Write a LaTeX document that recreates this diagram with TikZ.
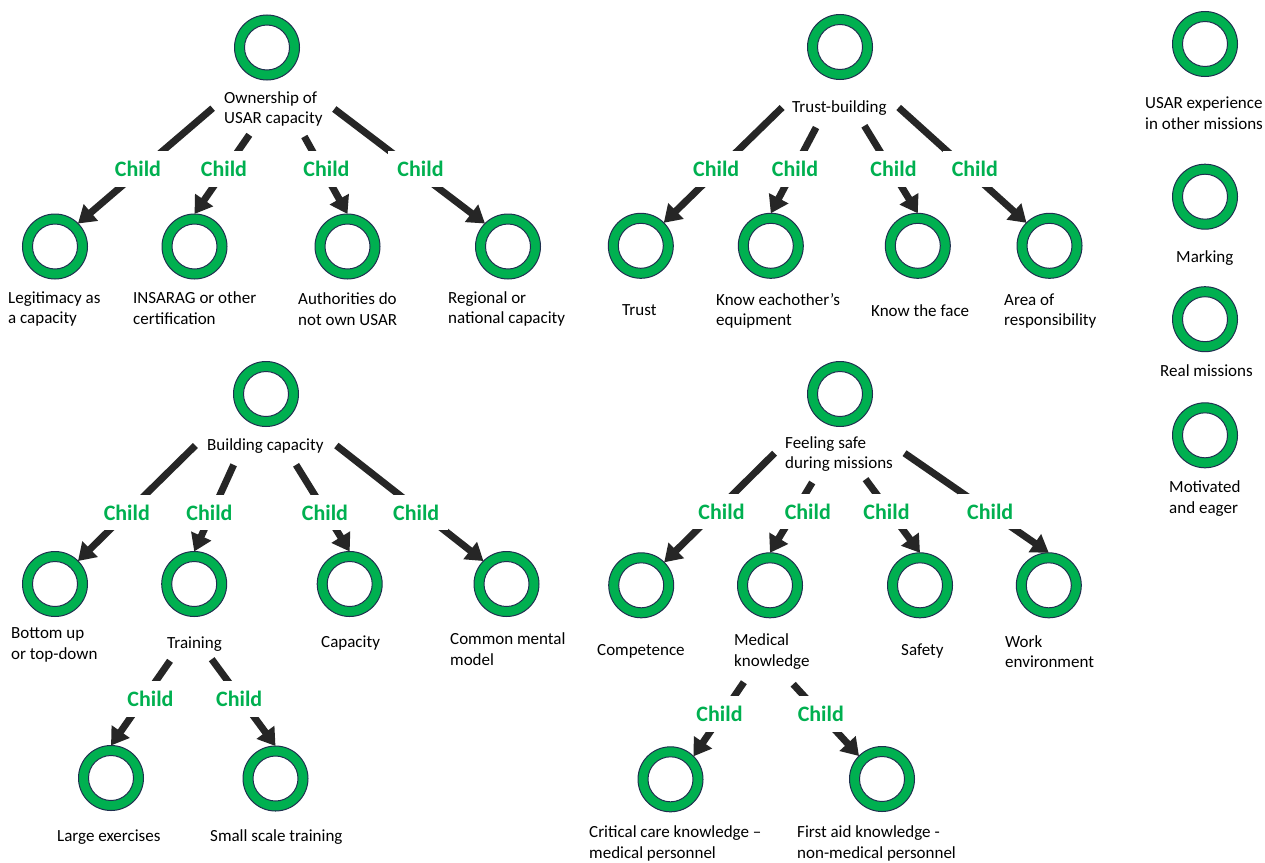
\documentclass[tikz,border=0pt]{standalone}
\usepackage{fontspec}
\setmainfont{Carlito}
\usetikzlibrary{arrows.meta,calc}
\definecolor{ringgreen}{HTML}{00B050}
\definecolor{ringnavy}{HTML}{1F2F4F}
\definecolor{edgegray}{HTML}{262626}
\definecolor{childgreen}{HTML}{00B050}
\begin{document}
\begin{tikzpicture}[x=1pt,y=-1pt,
  ring/.style={circle, minimum size=65pt, inner sep=0pt, outer sep=0pt, fill=ringgreen, draw=ringnavy, line width=1pt,
    path picture={\draw[ringnavy, line width=1pt, fill=white] (path picture bounding box.center) circle[radius=22.5pt];}},
  lbl/.style={font=\fontsize{17}{20.7}\selectfont, align=left, inner sep=0pt, anchor=west, text=black, yshift=-1.5pt},
  rel/.style={draw=edgegray, line width=7pt, -{Triangle[length=17pt,width=21pt]}},
  childlbl/.style={font=\fontsize{22}{26}\selectfont\bfseries, text=childgreen, fill=white, inner xsep=9pt, inner ysep=10pt, yshift=-0.8pt}
]
\useasboundingbox[fill=white] (0,0) rectangle (1265,862);

% ---------- Tree 1: Ownership ----------
\node[ring] (own) at (267,47.5) {};
\node[lbl] (ownL) at (224,107.5) {Ownership of\\USAR capacity};
\node[ring] (leg) at (55,246.5) {};
\node[lbl] (legL) at (8,307.5) {Legitimacy as\\a capacity};
\node[ring] (ins) at (194.5,246.5) {};
\node[lbl] (insL) at (133,307) {INSARAG or other\\certification};
\node[ring] (auth) at (347.5,246.5) {};
\node[lbl] (authL) at (298,307.5) {Authorities do\\not own USAR};
\node[ring] (reg) at (508,246.5) {};
\node[lbl] (regL) at (448,307.5) {Regional or\\national capacity};

\draw[rel] ($(ownL.center)+(-60.7,-0.8)$) -- (leg.45);
\draw[rel] ($(ownL.center)+(-24,25.8)$) -- (ins.north);
\draw[rel] ($(ownL.center)+(31,27.5)$) -- (auth.north);
\draw[rel] ($(ownL.center)+(61,0)$) -- (reg.135);
\node[childlbl] (ownC1) at (138,168.3) {Child};
\node[childlbl] (ownC2) at (224,168.3) {Child};
\node[childlbl] (ownC3) at (326.5,168.3) {Child};
\node[childlbl] (ownC4) at (420.5,168.3) {Child};

% ---------- Tree 2: Trust-building ----------
\node[ring] (tb) at (840,47) {};
\node[lbl] (tbL) at (792,106.5) {Trust-building};
\node[ring] (trust) at (640.8,245.8) {};
\node[lbl] (trustL) at (622,309) {Trust};
\node[ring] (know) at (770.8,245.8) {};
\node[lbl] (knowL) at (716,309.5) {Know eachother’s\\equipment};
\node[ring] (face) at (917.8,245.8) {};
\node[lbl] (faceL) at (871,309) {Know the face};
\node[ring] (area) at (1049.5,245.8) {};
\node[lbl] (areaL) at (1004,309.5) {Area of\\responsibility};

\draw[rel] ($(tbL.center)+(-57.3,-0.5)$) -- (trust.45);
\draw[rel] ($(tbL.center)+(-23.3,19.5)$) -- (know.north);
\draw[rel] ($(tbL.center)+(25,17.8)$) -- (face.north);
\draw[rel] ($(tbL.center)+(59.3,-0.5)$) -- (area.135);
\node[childlbl] (tbC1) at (716.2,168.3) {Child};
\node[childlbl] (tbC2) at (795,168.3) {Child};
\node[childlbl] (tbC3) at (893.5,168.3) {Child};
\node[childlbl] (tbC4) at (974.8,168.3) {Child};

% ---------- Tree 3: Building capacity ----------
\node[ring] (bc) at (266,394) {};
\node[lbl] (bcL) at (207,445) {Building capacity};
\node[ring] (bot) at (55,584) {};
\node[lbl] (botL) at (11,643.5) {Bottom up\\or top-down};
\node[ring] (tr) at (194.2,584) {};
\node[lbl] (trL) at (167,642.7) {Training};
\node[ring] (cap) at (349.7,584) {};
\node[lbl] (capL) at (321,642) {Capacity};
\node[ring] (cmm) at (506.5,584) {};
\node[lbl] (cmmL) at (450,647.5) {Common mental\\model};

\draw[rel] ($(bcL.center)+(-70,-1)$) -- (bot.45);
\draw[rel] ($(bcL.center)+(-31.7,18.3)$) -- (tr.north);
\draw[rel] ($(bcL.center)+(30.7,18.3)$) -- (cap.north);
\draw[rel] ($(bcL.center)+(71,-1)$) -- (cmm.135);
\node[childlbl] (bcC1) at (126.8,511.7) {Child};
\node[childlbl] (bcC2) at (209.5,511.7) {Child};
\node[childlbl] (bcC3) at (325,511.7) {Child};
\node[childlbl] (bcC4) at (416.2,511.7) {Child};

% Training sub-tree
\node[ring] (lex) at (111,778) {};
\node[lbl] (lexL) at (57,836) {Large exercises};
\node[ring] (sst) at (275.5,778.5) {};
\node[lbl] (sstL) at (210,836) {Small scale training};
\draw[rel] ($(trL.center)+(-24.5,16.6)$) -- (lex.north);
\draw[rel] ($(trL.center)+(17.2,15)$) -- (sst.north);
\node[childlbl] (trC1) at (150.5,698.3) {Child};
\node[childlbl] (trC2) at (239.2,698.3) {Child};

% ---------- Tree 4: Feeling safe ----------
\node[ring] (fs) at (840,394) {};
\node[lbl] (fsL) at (785,452.7) {Feeling safe\\during missions};
\node[ring] (comp) at (641.2,585.3) {};
\node[lbl] (compL) at (597,650) {Competence};
\node[ring] (med) at (770,585.3) {};
\node[lbl] (medL) at (734,650) {Medical\\knowledge};
\node[ring] (saf) at (920,585.3) {};
\node[lbl] (safL) at (901,650) {Safety};
\node[ring] (work) at (1048.8,585.3) {};
\node[lbl] (workL) at (1005,650) {Work\\environment};

\draw[rel] ($(fsL.center)+(-64.5,-1)$) -- (comp.45);
\draw[rel] ($(fsL.center)+(-26.8,28.3)$) -- (med.north);
\draw[rel] ($(fsL.center)+(26.5,25)$) -- (saf.north);
\draw[rel] ($(fsL.center)+(65.5,-1)$) -- (work.north);
\node[childlbl] (fsC1) at (721.5,510.7) {Child};
\node[childlbl] (fsC2) at (807.8,510.7) {Child};
\node[childlbl] (fsC3) at (886.5,510.7) {Child};
\node[childlbl] (fsC4) at (990.2,510.7) {Child};

% Medical knowledge sub-tree
\node[ring] (crit) at (670.5,779.3) {};
\node[lbl] (critL) at (589,841.7) {Critical care knowledge –\\medical personnel};
\node[ring] (fa) at (882,779) {};
\node[lbl] (faL) at (797,841.7) {First aid knowledge -\\non-medical personnel};
\draw[rel] ($(medL.center)+(-28,30.7)$) -- (crit.45);
\draw[rel] ($(medL.center)+(21.3,32.7)$) -- (fa.135);
\node[childlbl] (medC1) at (719.5,713.3) {Child};
\node[childlbl] (medC2) at (820.8,713.3) {Child};

% ---------- Right column ----------
\node[ring] (usar) at (1205,44) {};
\node[lbl] (usarL) at (1145,111.5) {USAR experience\\in other missions};
\node[ring] (mark) at (1205,196.7) {};
\node[lbl] (markL) at (1176,256.7) {Marking};
\node[ring] (real) at (1205,319.2) {};
\node[lbl] (realL) at (1160,369) {Real missions};
\node[ring] (motiv) at (1205,435.3) {};
\node[lbl] (motivL) at (1169,497) {Motivated\\and eager};
\end{tikzpicture}
\end{document}
